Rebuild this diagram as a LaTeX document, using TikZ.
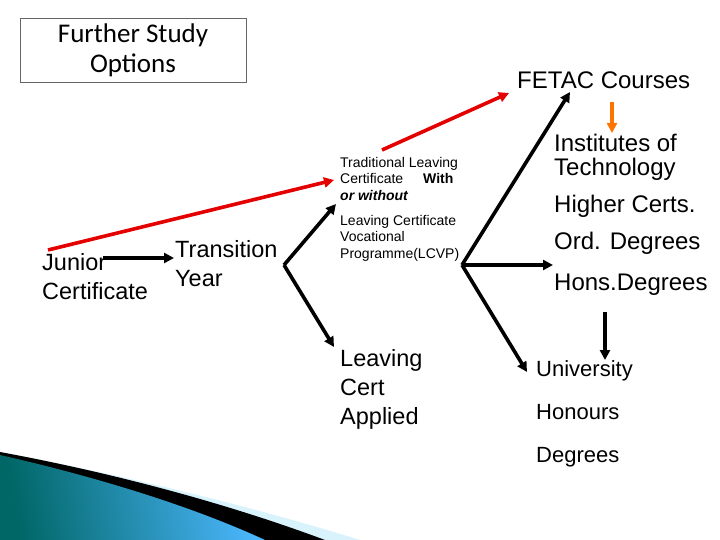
\documentclass[tikz,border=0pt]{standalone}
\usepackage{fontspec}
\setmainfont{Liberation Sans}
\newfontfamily\titlefont{Carlito}
\usetikzlibrary{arrows.meta}
\begin{document}
\begin{tikzpicture}[x=1pt,y=-1pt,
  txt/.style={anchor=north west,inner sep=0pt,align=left},
  blk/.style={draw=black,line width=3.6pt,-{Triangle[length=10pt,width=10pt]}},
  red/.style={draw=red!90!black,line width=3.6pt,-{Triangle[length=10pt,width=10pt]}}]
\useasboundingbox (0,0) rectangle (720,540);
% swoosh
\fill[cyan!15!white] (0,452) .. controls (150,480) and (280,515) .. (360,540) -- (0,540) -- cycle;
\fill[black] (0,452) .. controls (140,478) and (250,512) .. (325,540) -- (0,540) -- cycle;
\shade[left color=teal!80!black, right color=cyan!60!blue!70, shading angle=100] (0,455) .. controls (110,480) and (200,510) .. (265,540) -- (0,540) -- cycle;
% title
\node[draw=black!60,line width=0.6pt,minimum width=226pt,minimum height=64pt,align=center,font=\titlefont\fontsize{27}{30}\selectfont] (title) at (133,50) {Further Study\\Options};
% texts
\node[txt,font=\fontsize{23.5}{29}\selectfont] (jc) at (42,253) {Junior\\Certificate};
\node[txt,font=\fontsize{23.5}{29}\selectfont] (ty) at (175,240) {Transition\\Year};
\node[txt,font=\fontsize{14}{16.5}\selectfont] (tlc) at (340,157) {Traditional Leaving\\Certificate\hspace{20pt}\textbf{With}\\\textbf{\textit{or without}}};
\node[txt,font=\fontsize{14}{16.5}\selectfont] (lcvp) at (340,215) {Leaving Certificate\\Vocational\\Programme(LCVP)};
\node[txt,font=\fontsize{23.5}{29}\selectfont] (lca) at (340,349) {Leaving\\Cert\\Applied};
\node[txt,font=\fontsize{24}{24}\selectfont] (fetac) at (517,72) {FETAC Courses};
\node[txt,font=\fontsize{24}{24}\selectfont] (iot) at (554,134) {Institutes of\\Technology};
\node[txt,font=\fontsize{24}{24}\selectfont] (hc) at (554,195) {Higher Certs.};
\node[txt,font=\fontsize{24}{24}\selectfont] (od) at (554,232) {Ord. Degrees};
\node[txt,font=\fontsize{24}{24}\selectfont] (hd) at (554,274) {Hons.Degrees};
\node[txt,font=\fontsize{22}{43}\selectfont] (uni) at (536,360) {University\\Honours\\Degrees};
% coordinates
\coordinate (r1s) at (48,250); \coordinate (r1e) at (334,180);
\coordinate (r2s) at (382,150); \coordinate (r2e) at (509,93);
\coordinate (j1) at (103,258); \coordinate (j2) at (174,258);
\coordinate (f1) at (284,265); \coordinate (f1a) at (336,204); \coordinate (f1b) at (334,347);
\coordinate (f2) at (462,265); \coordinate (f2a) at (570,92); \coordinate (f2b) at (553,265); \coordinate (f2c) at (527,372);
\coordinate (o1) at (612,102); \coordinate (o2) at (612,133);
\coordinate (d1) at (605,312); \coordinate (d2) at (605,360);
% arrows
\draw[red] (r1s) -- (r1e);
\draw[red] (r2s) -- (r2e);
\draw[blk] (j1) -- (j2);
\draw[blk] (f1) -- (f1a);
\draw[blk] (f1) -- (f1b);
\draw[blk] (f2) -- (f2a);
\draw[blk] (f2) -- (f2b);
\draw[blk] (f2) -- (f2c);
\draw[draw=orange!90!red,line width=3.6pt,-{Triangle[length=10pt,width=10pt]}] (o1) -- (o2);
\draw[blk] (d1) -- (d2);
\end{tikzpicture}
\end{document}
